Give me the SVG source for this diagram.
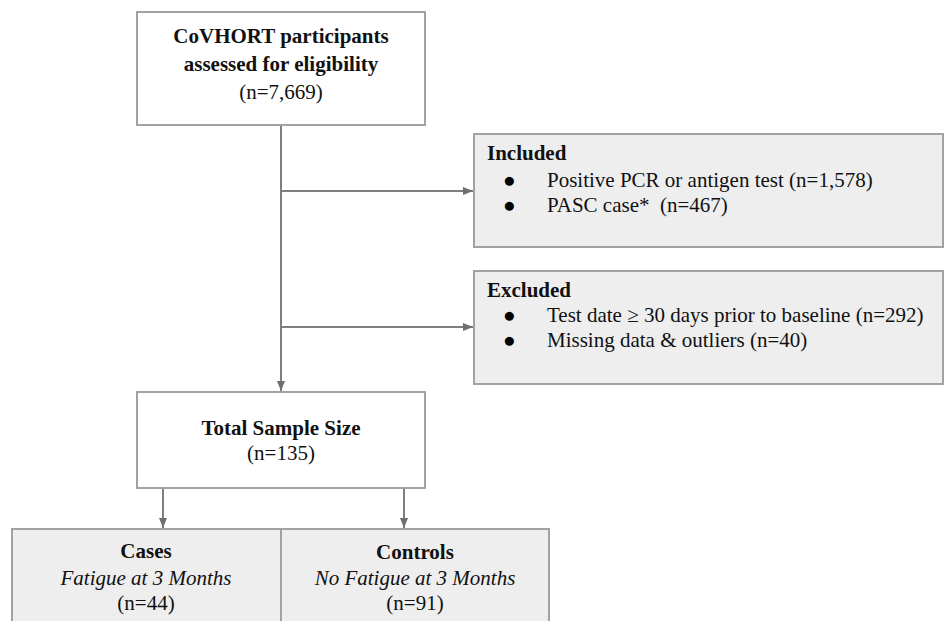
<svg xmlns="http://www.w3.org/2000/svg" width="945" height="621" viewBox="0 0 945 621" font-family="'Liberation Serif', 'DejaVu Serif', serif" font-size="21">
<style>
  .box { stroke: #a2a2a2; stroke-width: 2; }
  .white { fill: #ffffff; }
  .grey { fill: #eeeeee; }
  text { font-family: 'Liberation Serif', 'DejaVu Serif', serif; font-size: 21px; fill: #111111; }
  .b { font-weight: bold; }
  .i { font-style: italic; }
  .c { text-anchor: middle; }
  .dot { fill: #000000; }
  .conn { stroke: #7f7f7f; stroke-width: 2; fill: none; marker-end: url(#arrow); }
</style>
<defs>
  <marker id="arrow" viewBox="0 0 10 10" refX="10" refY="5" markerWidth="10" markerHeight="10" markerUnits="userSpaceOnUse" orient="auto">
    <path d="M0,1 L10,5 L0,9 Z" fill="#6f6f6f"/>
  </marker>
</defs>
<rect width="945" height="621" fill="#ffffff"/>

<g id="connectors">
  <line class="conn" x1="281" y1="125" x2="281" y2="391"/>
  <line class="conn" x1="281" y1="191" x2="473" y2="191"/>
  <line class="conn" x1="281" y1="327" x2="473" y2="327"/>
  <line class="conn" x1="163" y1="488" x2="163" y2="528"/>
  <line class="conn" x1="404" y1="488" x2="404" y2="528"/>
</g>

<g id="eligibility">
  <rect class="box white" x="137" y="12" width="288" height="113"/>
  <text class="b c" x="281" y="43" font-family="Liberation Serif, serif">CoVHORT participants</text>
  <text class="b c" x="281" y="71" font-family="Liberation Serif, serif">assessed for eligibility</text>
  <text class="c" x="281" y="99" font-family="Liberation Serif, serif">(n=7,669)</text>
</g>

<g id="included">
  <rect class="box grey" x="474" y="134" width="469" height="113"/>
  <text class="b" x="487" y="160" font-family="Liberation Serif, serif">Included</text>
  <text class="dot" x="503" y="187" font-size="22">●</text>
  <text x="547" y="187" font-family="Liberation Serif, serif">Positive PCR or antigen test (n=1,578)</text>
  <text class="dot" x="503" y="212" font-size="22">●</text>
  <text x="547" y="212" xml:space="preserve" font-family="Liberation Serif, serif">PASC case*  (n=467)</text>
</g>

<g id="excluded">
  <rect class="box grey" x="474" y="271" width="469" height="113"/>
  <text class="b" x="487" y="297" font-family="Liberation Serif, serif">Excluded</text>
  <text class="dot" x="503" y="322" font-size="22">●</text>
  <text x="547" y="322" font-family="Liberation Serif, serif">Test date ≥ 30 days prior to baseline (n=292)</text>
  <text class="dot" x="503" y="347" font-size="22">●</text>
  <text x="547" y="347" font-family="Liberation Serif, serif">Missing data &amp; outliers (n=40)</text>
</g>

<g id="total">
  <rect class="box white" x="137" y="392" width="288" height="96"/>
  <text class="b c" x="281" y="435" font-family="Liberation Serif, serif">Total Sample Size</text>
  <text class="c" x="281" y="460" font-family="Liberation Serif, serif">(n=135)</text>
</g>

<g id="cases">
  <rect class="box grey" x="12" y="529" width="269" height="100"/>
  <text class="b c" x="146" y="558" font-family="Liberation Serif, serif">Cases</text>
  <text class="i c" x="146" y="585" font-family="Liberation Serif, serif">Fatigue at 3 Months</text>
  <text class="c" x="146" y="610" font-family="Liberation Serif, serif">(n=44)</text>
</g>

<g id="controls">
  <rect class="box grey" x="281" y="529" width="268" height="100"/>
  <text class="b c" x="415" y="559" font-family="Liberation Serif, serif">Controls</text>
  <text class="i c" x="415" y="585" font-family="Liberation Serif, serif">No Fatigue at 3 Months</text>
  <text class="c" x="415" y="610" font-family="Liberation Serif, serif">(n=91)</text>
</g>
</svg>
